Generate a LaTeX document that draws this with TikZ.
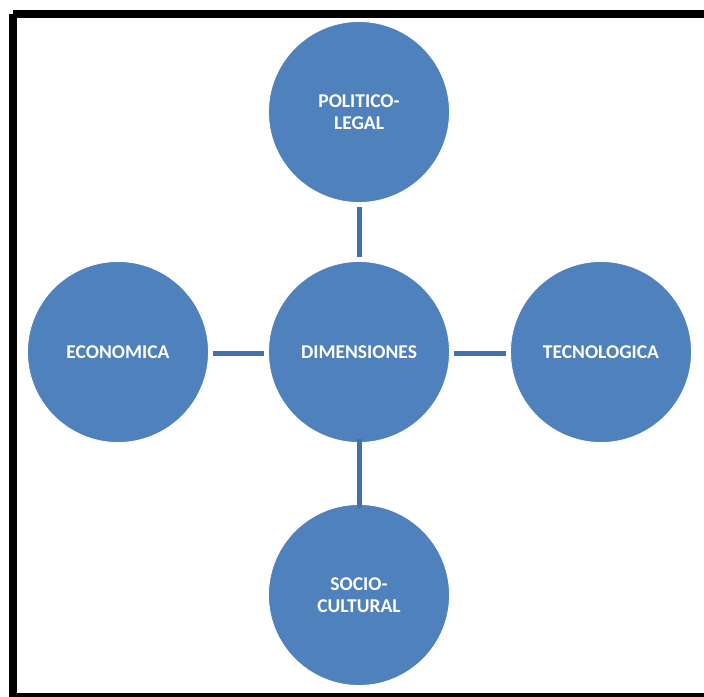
\documentclass[tikz,border=0pt]{standalone}
\usepackage{fontspec}
\setmainfont{Carlito}
\definecolor{circfill}{HTML}{4F81BD}
\definecolor{linkcol}{HTML}{4271A9}
\begin{document}
\begin{tikzpicture}[x=1pt,y=-1pt,
  dim/.style={circle,fill=circfill,draw=white,line width=0.8pt,minimum size=181pt,inner sep=0pt,
    text=white,font=\fontsize{19.5}{22.5}\selectfont\bfseries,align=center},
  link/.style={draw=linkcol,line width=5pt}]
\useasboundingbox (0,0) rectangle (704,696);
\clip (0,0) rectangle (704,696);
\fill[white] (0,0) rectangle (704,696);
\draw[line width=8pt] (13,14) -- (712,14);
\draw[line width=8pt] (13,14) -- (13,700);
\draw[line width=8pt] (9,697) -- (712,697);
\node[dim] (c) at (359,352) {DIMENSIONES};
\node[dim] (t) at (359,112) {POLITICO-\\LEGAL};
\node[dim] (b) at (359,595) {SOCIO-\\CULTURAL};
\node[dim] (l) at (118,352) {ECONOMICA};
\node[dim] (r) at (601,352) {TECNOLOGICA};
\draw[link] ([yshift=-4pt]t.south) -- ([yshift=4pt]c.north);
\draw[link] ([yshift=4pt]c.south) -- ([yshift=-4pt]b.north);
\draw[link] ([xshift=4pt]l.east |- 0,353) -- ([xshift=-4pt]c.west |- 0,353);
\draw[link] ([xshift=4pt]c.east |- 0,353) -- ([xshift=-4pt]r.west |- 0,353);
\end{tikzpicture}
\end{document}
